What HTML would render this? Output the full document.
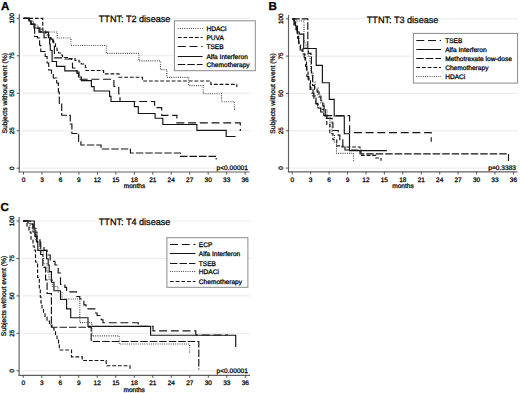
<!DOCTYPE html>
<html><head><meta charset="utf-8"><style>
html,body{margin:0;padding:0;background:#fff;}
body{width:520px;height:393px;overflow:hidden;font-family:"Liberation Sans",sans-serif;}
svg{display:block;text-rendering:geometricPrecision;}
</style></head><body>
<svg width="520" height="393" viewBox="0 0 520 393">
<rect width="520" height="393" fill="#fff"/>
<line x1="22.80" y1="168.20" x2="250.00" y2="168.20" stroke="#e9e9e9" stroke-width="1"/>
<line x1="22.80" y1="130.72" x2="250.00" y2="130.72" stroke="#e9e9e9" stroke-width="1"/>
<line x1="22.80" y1="93.25" x2="250.00" y2="93.25" stroke="#e9e9e9" stroke-width="1"/>
<line x1="22.80" y1="55.78" x2="250.00" y2="55.78" stroke="#e9e9e9" stroke-width="1"/>
<line x1="22.80" y1="18.30" x2="250.00" y2="18.30" stroke="#e9e9e9" stroke-width="1"/>
<rect x="96.5" y="13.0" width="76.0" height="11.0" fill="#fff"/>
<text x="134.60" y="22.30" font-size="9.1" text-anchor="middle" fill="#111" font-family="&apos;Liberation Sans&apos;, sans-serif" stroke="#000" stroke-width="0.28">TTNT: T2 disease</text>
<rect x="216.0" y="164.5" width="33.0" height="6.5" fill="#fff"/>
<text x="247.90" y="170.10" font-size="6.6" text-anchor="end" fill="#111" font-family="&apos;Liberation Sans&apos;, sans-serif" stroke="#000" stroke-width="0.28">p&lt;0.00001</text>
<path d="M23.50 18.30 H30.00 V21.00 H33.50 V25.00 H38.00 V29.00 H41.50 V32.00 H57.30 V38.00 H71.00 V45.50 H106.30 V53.40 H138.90 V60.90 H160.50 V69.60 H166.80 V77.30 H188.70 V85.60 H203.20 V93.70 H221.50 V101.70 H234.40 V110.00" fill="none" stroke="#3a3a3a" stroke-width="1.15" stroke-dasharray="0.9 1.3"/>
<path d="M23.50 18.30 H42.75 V30.25 H45.50 V33.00 H47.00 V35.00 H49.00 V37.50 H51.00 V40.00 H53.50 V42.75 H55.50 V48.00 H57.00 V50.50 H58.50 V53.00 H60.50 V55.00 H62.50 V57.50 H68.00 V58.60 H75.00 V60.30 H79.00 V62.00 H81.30 V64.00 H85.40 V67.50 H86.10 V70.50 H103.60 V73.80 H119.00 V77.20 H142.50 V81.00 H210.90 V84.40 H236.80 V87.00" fill="none" stroke="#141414" stroke-width="1.15" stroke-dasharray="3.8 1.9"/>
<path d="M23.50 18.30 H29.00 V21.00 H31.00 V24.00 H35.00 V28.00 H40.00 V32.00 H44.00 V37.75 H50.00 V39.00 H52.75 V42.00 H54.00 V46.00 H54.40 V57.90 H64.80 V59.00 H71.70 V63.00 H72.50 V68.00 H77.00 V72.00 H79.00 V79.20 H113.90 V86.50 H118.75 V94.00 H120.00 V101.50 H154.60 V107.60 H161.70 V115.30 H176.90 V122.80 H240.30 V131.00" fill="none" stroke="#141414" stroke-width="1.15" stroke-dasharray="8 3.7"/>
<path d="M23.50 18.30 H29.00 V21.00 H31.00 V24.00 H34.00 V28.00 H39.00 V32.10 H48.50 V37.75 H49.60 V44.00 H50.25 V50.25 H52.10 V61.50 H56.50 V66.30 H64.80 V70.90 H77.00 V73.50 H78.50 V77.00 H81.30 V80.60 H91.40 V86.60 H94.10 V91.00 H109.60 V96.30 H111.00 V101.50 H134.40 V106.60 H138.30 V113.50 H155.10 V118.20 H162.80 V124.50 H196.90 V130.40 H226.20 V136.50 H235.60" fill="none" stroke="#141414" stroke-width="1.15"/>
<path d="M23.50 18.30 H29.00 V21.00 H31.00 V24.50 H34.60 V36.50 H37.50 V38.00 H39.60 V45.25 H40.80 V51.50 H45.20 V56.50 H47.10 V63.00 H48.70 V70.00 H51.50 V74.60 H53.30 V78.00 H56.70 V83.00 H58.40 V92.00 H59.30 V103.50 H61.70 V115.20 H70.30 V124.00 H71.90 V133.50 H78.60 V141.50 H80.90 V145.00 H101.10 V149.00 H130.40 V153.00 H180.50 V156.30 H216.20 V159.50" fill="none" stroke="#141414" stroke-width="1.15" stroke-dasharray="7.5 2"/>
<line x1="19.30" y1="14.00" x2="19.30" y2="172.60" stroke="#606060" stroke-width="1.15"/>
<line x1="18.70" y1="172.00" x2="249.50" y2="172.00" stroke="#606060" stroke-width="1.15"/>
<line x1="16.70" y1="168.20" x2="19.30" y2="168.20" stroke="#444" stroke-width="0.9"/>
<text transform="translate(13.80 168.20) rotate(-90)" font-size="6.3" text-anchor="middle" fill="#111" font-family="&apos;Liberation Sans&apos;, sans-serif" stroke="#000" stroke-width="0.28">0</text>
<line x1="16.70" y1="130.72" x2="19.30" y2="130.72" stroke="#444" stroke-width="0.9"/>
<text transform="translate(13.80 130.72) rotate(-90)" font-size="6.3" text-anchor="middle" fill="#111" font-family="&apos;Liberation Sans&apos;, sans-serif" stroke="#000" stroke-width="0.28">25</text>
<line x1="16.70" y1="93.25" x2="19.30" y2="93.25" stroke="#444" stroke-width="0.9"/>
<text transform="translate(13.80 93.25) rotate(-90)" font-size="6.3" text-anchor="middle" fill="#111" font-family="&apos;Liberation Sans&apos;, sans-serif" stroke="#000" stroke-width="0.28">50</text>
<line x1="16.70" y1="55.78" x2="19.30" y2="55.78" stroke="#444" stroke-width="0.9"/>
<text transform="translate(13.80 55.78) rotate(-90)" font-size="6.3" text-anchor="middle" fill="#111" font-family="&apos;Liberation Sans&apos;, sans-serif" stroke="#000" stroke-width="0.28">75</text>
<line x1="16.70" y1="18.30" x2="19.30" y2="18.30" stroke="#444" stroke-width="0.9"/>
<text transform="translate(13.80 18.30) rotate(-90)" font-size="6.3" text-anchor="middle" fill="#111" font-family="&apos;Liberation Sans&apos;, sans-serif" stroke="#000" stroke-width="0.28">100</text>
<line x1="23.50" y1="172.00" x2="23.50" y2="174.60" stroke="#444" stroke-width="0.9"/>
<text x="23.50" y="181.60" font-size="6.5" text-anchor="middle" fill="#111" font-family="&apos;Liberation Sans&apos;, sans-serif" stroke="#000" stroke-width="0.28">0</text>
<line x1="41.97" y1="172.00" x2="41.97" y2="174.60" stroke="#444" stroke-width="0.9"/>
<text x="41.97" y="181.60" font-size="6.5" text-anchor="middle" fill="#111" font-family="&apos;Liberation Sans&apos;, sans-serif" stroke="#000" stroke-width="0.28">3</text>
<line x1="60.44" y1="172.00" x2="60.44" y2="174.60" stroke="#444" stroke-width="0.9"/>
<text x="60.44" y="181.60" font-size="6.5" text-anchor="middle" fill="#111" font-family="&apos;Liberation Sans&apos;, sans-serif" stroke="#000" stroke-width="0.28">6</text>
<line x1="78.90" y1="172.00" x2="78.90" y2="174.60" stroke="#444" stroke-width="0.9"/>
<text x="78.90" y="181.60" font-size="6.5" text-anchor="middle" fill="#111" font-family="&apos;Liberation Sans&apos;, sans-serif" stroke="#000" stroke-width="0.28">9</text>
<line x1="97.37" y1="172.00" x2="97.37" y2="174.60" stroke="#444" stroke-width="0.9"/>
<text x="97.37" y="181.60" font-size="6.5" text-anchor="middle" fill="#111" font-family="&apos;Liberation Sans&apos;, sans-serif" stroke="#000" stroke-width="0.28">12</text>
<line x1="115.84" y1="172.00" x2="115.84" y2="174.60" stroke="#444" stroke-width="0.9"/>
<text x="115.84" y="181.60" font-size="6.5" text-anchor="middle" fill="#111" font-family="&apos;Liberation Sans&apos;, sans-serif" stroke="#000" stroke-width="0.28">15</text>
<line x1="134.31" y1="172.00" x2="134.31" y2="174.60" stroke="#444" stroke-width="0.9"/>
<text x="134.31" y="181.60" font-size="6.5" text-anchor="middle" fill="#111" font-family="&apos;Liberation Sans&apos;, sans-serif" stroke="#000" stroke-width="0.28">18</text>
<line x1="152.78" y1="172.00" x2="152.78" y2="174.60" stroke="#444" stroke-width="0.9"/>
<text x="152.78" y="181.60" font-size="6.5" text-anchor="middle" fill="#111" font-family="&apos;Liberation Sans&apos;, sans-serif" stroke="#000" stroke-width="0.28">21</text>
<line x1="171.24" y1="172.00" x2="171.24" y2="174.60" stroke="#444" stroke-width="0.9"/>
<text x="171.24" y="181.60" font-size="6.5" text-anchor="middle" fill="#111" font-family="&apos;Liberation Sans&apos;, sans-serif" stroke="#000" stroke-width="0.28">24</text>
<line x1="189.71" y1="172.00" x2="189.71" y2="174.60" stroke="#444" stroke-width="0.9"/>
<text x="189.71" y="181.60" font-size="6.5" text-anchor="middle" fill="#111" font-family="&apos;Liberation Sans&apos;, sans-serif" stroke="#000" stroke-width="0.28">27</text>
<line x1="208.18" y1="172.00" x2="208.18" y2="174.60" stroke="#444" stroke-width="0.9"/>
<text x="208.18" y="181.60" font-size="6.5" text-anchor="middle" fill="#111" font-family="&apos;Liberation Sans&apos;, sans-serif" stroke="#000" stroke-width="0.28">30</text>
<line x1="226.65" y1="172.00" x2="226.65" y2="174.60" stroke="#444" stroke-width="0.9"/>
<text x="226.65" y="181.60" font-size="6.5" text-anchor="middle" fill="#111" font-family="&apos;Liberation Sans&apos;, sans-serif" stroke="#000" stroke-width="0.28">33</text>
<line x1="245.12" y1="172.00" x2="245.12" y2="174.60" stroke="#444" stroke-width="0.9"/>
<text x="245.12" y="181.60" font-size="6.5" text-anchor="middle" fill="#111" font-family="&apos;Liberation Sans&apos;, sans-serif" stroke="#000" stroke-width="0.28">36</text>
<text transform="translate(6.60 93.25) rotate(-90)" font-size="6.8" text-anchor="middle" fill="#111" font-family="&apos;Liberation Sans&apos;, sans-serif" stroke="#000" stroke-width="0.28">Subjects without event (%)</text>
<text x="134.50" y="188.30" font-size="6.5" text-anchor="middle" fill="#111" font-family="&apos;Liberation Sans&apos;, sans-serif" stroke="#000" stroke-width="0.28">months</text>
<rect x="174.40" y="20.80" width="80.90" height="49.90" fill="#fff" stroke="#8a8a8a" stroke-width="1"/>
<line x1="177.80" y1="28.50" x2="202.60" y2="28.50" stroke="#3a3a3a" stroke-width="1" stroke-dasharray="0.9 1.3"/>
<text x="206.40" y="30.80" font-size="6.6" fill="#111" font-family="&apos;Liberation Sans&apos;, sans-serif" stroke="#000" stroke-width="0.28">HDACi</text>
<line x1="177.80" y1="37.50" x2="202.60" y2="37.50" stroke="#141414" stroke-width="1" stroke-dasharray="3.8 1.9"/>
<text x="206.40" y="39.90" font-size="6.6" fill="#111" font-family="&apos;Liberation Sans&apos;, sans-serif" stroke="#000" stroke-width="0.28">PUVA</text>
<line x1="177.80" y1="46.50" x2="202.60" y2="46.50" stroke="#141414" stroke-width="1" stroke-dasharray="8 3.7"/>
<text x="206.40" y="49.20" font-size="6.6" fill="#111" font-family="&apos;Liberation Sans&apos;, sans-serif" stroke="#000" stroke-width="0.28">TSEB</text>
<line x1="177.80" y1="56.50" x2="202.60" y2="56.50" stroke="#141414" stroke-width="1"/>
<text x="206.40" y="58.50" font-size="6.6" fill="#111" font-family="&apos;Liberation Sans&apos;, sans-serif" stroke="#000" stroke-width="0.28">Alfa Interferon</text>
<line x1="177.80" y1="64.50" x2="202.60" y2="64.50" stroke="#141414" stroke-width="1" stroke-dasharray="7.5 2"/>
<text x="206.40" y="67.00" font-size="6.6" fill="#111" font-family="&apos;Liberation Sans&apos;, sans-serif" stroke="#000" stroke-width="0.28">Chemotherapy</text>
<text x="0.90" y="9.50" font-size="11.6" font-weight="bold" fill="#000" font-family="&apos;Liberation Sans&apos;, sans-serif" stroke="#000" stroke-width="0.28">A</text>
<line x1="289.60" y1="168.10" x2="518.00" y2="168.10" stroke="#e9e9e9" stroke-width="1"/>
<line x1="289.60" y1="130.78" x2="518.00" y2="130.78" stroke="#e9e9e9" stroke-width="1"/>
<line x1="289.60" y1="93.45" x2="518.00" y2="93.45" stroke="#e9e9e9" stroke-width="1"/>
<line x1="289.60" y1="56.12" x2="518.00" y2="56.12" stroke="#e9e9e9" stroke-width="1"/>
<line x1="289.60" y1="18.80" x2="518.00" y2="18.80" stroke="#e9e9e9" stroke-width="1"/>
<rect x="365.0" y="14.0" width="75.0" height="11.0" fill="#fff"/>
<text x="402.60" y="23.00" font-size="9.1" text-anchor="middle" fill="#111" font-family="&apos;Liberation Sans&apos;, sans-serif" stroke="#000" stroke-width="0.28">TTNT: T3 disease</text>
<rect x="488.0" y="164.5" width="29.0" height="6.5" fill="#fff"/>
<text x="516.00" y="170.10" font-size="6.6" text-anchor="end" fill="#111" font-family="&apos;Liberation Sans&apos;, sans-serif" stroke="#000" stroke-width="0.28">p=0.3383</text>
<path d="M292.20 18.80 H294.50 V24.00 H296.50 V30.00 H297.10 V34.00 H298.60 V44.00 H300.20 V50.00 H302.20 V52.50 H304.20 V57.50 H305.60 V66.40 H306.90 V76.50 H308.80 V82.90 H310.10 V89.30 H312.00 V93.10 H313.90 V98.20 H315.80 V103.30 H317.70 V108.30 H320.70 V112.00 H323.70 V115.60 H349.60 V132.60 H431.20 V141.80" fill="none" stroke="#141414" stroke-width="1.15" stroke-dasharray="8 3.7"/>
<path d="M292.20 18.80 H294.00 V22.00 H295.60 V26.00 H297.40 V32.00 H299.20 V34.10 H303.70 V48.50 H316.20 V65.30 H322.40 V82.70 H329.30 V99.30 H334.20 V116.00 H344.30 V133.70 H349.50 V150.60 H387.00" fill="none" stroke="#141414" stroke-width="1.15"/>
<path d="M292.20 18.80 H307.80 V48.30 H308.30 V53.40 H311.00 V55.50 H311.40 V75.30 H312.60 V85.40 H314.50 V89.30 H317.10 V91.80 H319.00 V96.90 H320.90 V100.70 H322.80 V105.80 H324.10 V108.30 H325.30 V118.30 H332.10 V122.90 H332.90 V130.50 H338.20 V135.10 H339.80 V139.70 H342.80 V145.80 H345.00 V150.00 H361.00 V153.80 H508.50 V161.00" fill="none" stroke="#141414" stroke-width="1.15" stroke-dasharray="7.5 2"/>
<path d="M292.20 18.80 H294.00 V25.00 H296.00 V31.00 H297.60 V38.20 H299.00 V45.00 H300.50 V49.00 H303.00 V54.00 H305.00 V60.00 H306.50 V70.00 H308.00 V79.00 H310.50 V88.00 H313.00 V96.00 H316.00 V104.00 H318.00 V108.00 H320.70 V109.20 H323.70 V115.30 H326.80 V124.40 H329.80 V133.60 H332.90 V139.70 H336.70 V145.80 H342.00 V147.00 H360.00 V155.30 H375.80 V158.00 H381.00 V160.70" fill="none" stroke="#141414" stroke-width="1.15" stroke-dasharray="3.8 1.9"/>
<path d="M292.20 18.80 H296.00 V21.00 H304.00 V42.00 H306.00 V48.00 H308.00 V56.00 H310.00 V62.00 H311.00 V72.00 H313.00 V82.00 H315.00 V88.00 H318.00 V95.00 H321.00 V103.00 H324.00 V110.00 H327.00 V118.00 H330.00 V126.00 H332.00 V135.00 H334.40 V142.00 H336.50 V153.30 H353.50 V161.00" fill="none" stroke="#3a3a3a" stroke-width="1.15" stroke-dasharray="0.9 1.3"/>
<line x1="288.50" y1="15.00" x2="288.50" y2="172.40" stroke="#606060" stroke-width="1.15"/>
<line x1="287.90" y1="171.80" x2="517.50" y2="171.80" stroke="#606060" stroke-width="1.15"/>
<line x1="285.90" y1="168.10" x2="288.50" y2="168.10" stroke="#444" stroke-width="0.9"/>
<text transform="translate(283.00 168.10) rotate(-90)" font-size="6.3" text-anchor="middle" fill="#111" font-family="&apos;Liberation Sans&apos;, sans-serif" stroke="#000" stroke-width="0.28">0</text>
<line x1="285.90" y1="130.78" x2="288.50" y2="130.78" stroke="#444" stroke-width="0.9"/>
<text transform="translate(283.00 130.78) rotate(-90)" font-size="6.3" text-anchor="middle" fill="#111" font-family="&apos;Liberation Sans&apos;, sans-serif" stroke="#000" stroke-width="0.28">25</text>
<line x1="285.90" y1="93.45" x2="288.50" y2="93.45" stroke="#444" stroke-width="0.9"/>
<text transform="translate(283.00 93.45) rotate(-90)" font-size="6.3" text-anchor="middle" fill="#111" font-family="&apos;Liberation Sans&apos;, sans-serif" stroke="#000" stroke-width="0.28">50</text>
<line x1="285.90" y1="56.12" x2="288.50" y2="56.12" stroke="#444" stroke-width="0.9"/>
<text transform="translate(283.00 56.12) rotate(-90)" font-size="6.3" text-anchor="middle" fill="#111" font-family="&apos;Liberation Sans&apos;, sans-serif" stroke="#000" stroke-width="0.28">75</text>
<line x1="285.90" y1="18.80" x2="288.50" y2="18.80" stroke="#444" stroke-width="0.9"/>
<text transform="translate(283.00 18.80) rotate(-90)" font-size="6.3" text-anchor="middle" fill="#111" font-family="&apos;Liberation Sans&apos;, sans-serif" stroke="#000" stroke-width="0.28">100</text>
<line x1="292.20" y1="171.80" x2="292.20" y2="174.40" stroke="#444" stroke-width="0.9"/>
<text x="292.20" y="181.50" font-size="6.5" text-anchor="middle" fill="#111" font-family="&apos;Liberation Sans&apos;, sans-serif" stroke="#000" stroke-width="0.28">0</text>
<line x1="310.63" y1="171.80" x2="310.63" y2="174.40" stroke="#444" stroke-width="0.9"/>
<text x="310.63" y="181.50" font-size="6.5" text-anchor="middle" fill="#111" font-family="&apos;Liberation Sans&apos;, sans-serif" stroke="#000" stroke-width="0.28">3</text>
<line x1="329.07" y1="171.80" x2="329.07" y2="174.40" stroke="#444" stroke-width="0.9"/>
<text x="329.07" y="181.50" font-size="6.5" text-anchor="middle" fill="#111" font-family="&apos;Liberation Sans&apos;, sans-serif" stroke="#000" stroke-width="0.28">6</text>
<line x1="347.50" y1="171.80" x2="347.50" y2="174.40" stroke="#444" stroke-width="0.9"/>
<text x="347.50" y="181.50" font-size="6.5" text-anchor="middle" fill="#111" font-family="&apos;Liberation Sans&apos;, sans-serif" stroke="#000" stroke-width="0.28">9</text>
<line x1="365.94" y1="171.80" x2="365.94" y2="174.40" stroke="#444" stroke-width="0.9"/>
<text x="365.94" y="181.50" font-size="6.5" text-anchor="middle" fill="#111" font-family="&apos;Liberation Sans&apos;, sans-serif" stroke="#000" stroke-width="0.28">12</text>
<line x1="384.38" y1="171.80" x2="384.38" y2="174.40" stroke="#444" stroke-width="0.9"/>
<text x="384.38" y="181.50" font-size="6.5" text-anchor="middle" fill="#111" font-family="&apos;Liberation Sans&apos;, sans-serif" stroke="#000" stroke-width="0.28">15</text>
<line x1="402.81" y1="171.80" x2="402.81" y2="174.40" stroke="#444" stroke-width="0.9"/>
<text x="402.81" y="181.50" font-size="6.5" text-anchor="middle" fill="#111" font-family="&apos;Liberation Sans&apos;, sans-serif" stroke="#000" stroke-width="0.28">18</text>
<line x1="421.25" y1="171.80" x2="421.25" y2="174.40" stroke="#444" stroke-width="0.9"/>
<text x="421.25" y="181.50" font-size="6.5" text-anchor="middle" fill="#111" font-family="&apos;Liberation Sans&apos;, sans-serif" stroke="#000" stroke-width="0.28">21</text>
<line x1="439.68" y1="171.80" x2="439.68" y2="174.40" stroke="#444" stroke-width="0.9"/>
<text x="439.68" y="181.50" font-size="6.5" text-anchor="middle" fill="#111" font-family="&apos;Liberation Sans&apos;, sans-serif" stroke="#000" stroke-width="0.28">24</text>
<line x1="458.12" y1="171.80" x2="458.12" y2="174.40" stroke="#444" stroke-width="0.9"/>
<text x="458.12" y="181.50" font-size="6.5" text-anchor="middle" fill="#111" font-family="&apos;Liberation Sans&apos;, sans-serif" stroke="#000" stroke-width="0.28">27</text>
<line x1="476.55" y1="171.80" x2="476.55" y2="174.40" stroke="#444" stroke-width="0.9"/>
<text x="476.55" y="181.50" font-size="6.5" text-anchor="middle" fill="#111" font-family="&apos;Liberation Sans&apos;, sans-serif" stroke="#000" stroke-width="0.28">30</text>
<line x1="494.99" y1="171.80" x2="494.99" y2="174.40" stroke="#444" stroke-width="0.9"/>
<text x="494.99" y="181.50" font-size="6.5" text-anchor="middle" fill="#111" font-family="&apos;Liberation Sans&apos;, sans-serif" stroke="#000" stroke-width="0.28">33</text>
<line x1="513.42" y1="171.80" x2="513.42" y2="174.40" stroke="#444" stroke-width="0.9"/>
<text x="513.42" y="181.50" font-size="6.5" text-anchor="middle" fill="#111" font-family="&apos;Liberation Sans&apos;, sans-serif" stroke="#000" stroke-width="0.28">36</text>
<text transform="translate(274.90 93.45) rotate(-90)" font-size="6.8" text-anchor="middle" fill="#111" font-family="&apos;Liberation Sans&apos;, sans-serif" stroke="#000" stroke-width="0.28">Subjects without event (%)</text>
<text x="403.00" y="188.20" font-size="6.5" text-anchor="middle" fill="#111" font-family="&apos;Liberation Sans&apos;, sans-serif" stroke="#000" stroke-width="0.28">months</text>
<rect x="413.40" y="33.40" width="104.20" height="49.70" fill="#fff" stroke="#8a8a8a" stroke-width="1"/>
<line x1="416.30" y1="40.50" x2="441.00" y2="40.50" stroke="#141414" stroke-width="1" stroke-dasharray="8 3.7"/>
<text x="445.20" y="43.30" font-size="6.6" fill="#111" font-family="&apos;Liberation Sans&apos;, sans-serif" stroke="#000" stroke-width="0.28">TSEB</text>
<line x1="416.30" y1="49.50" x2="441.00" y2="49.50" stroke="#141414" stroke-width="1"/>
<text x="445.20" y="51.80" font-size="6.6" fill="#111" font-family="&apos;Liberation Sans&apos;, sans-serif" stroke="#000" stroke-width="0.28">Alfa Interferon</text>
<line x1="416.30" y1="58.50" x2="441.00" y2="58.50" stroke="#141414" stroke-width="1" stroke-dasharray="7.5 2"/>
<text x="445.20" y="60.60" font-size="6.6" fill="#111" font-family="&apos;Liberation Sans&apos;, sans-serif" stroke="#000" stroke-width="0.28">Methotrexate low-dose</text>
<line x1="416.30" y1="67.50" x2="441.00" y2="67.50" stroke="#141414" stroke-width="1" stroke-dasharray="3.8 1.9"/>
<text x="445.20" y="69.80" font-size="6.6" fill="#111" font-family="&apos;Liberation Sans&apos;, sans-serif" stroke="#000" stroke-width="0.28">Chemotherapy</text>
<line x1="416.30" y1="76.50" x2="441.00" y2="76.50" stroke="#3a3a3a" stroke-width="1" stroke-dasharray="0.9 1.3"/>
<text x="445.20" y="78.80" font-size="6.6" fill="#111" font-family="&apos;Liberation Sans&apos;, sans-serif" stroke="#000" stroke-width="0.28">HDACi</text>
<text x="268.60" y="9.80" font-size="11.6" font-weight="bold" fill="#000" font-family="&apos;Liberation Sans&apos;, sans-serif" stroke="#000" stroke-width="0.28">B</text>
<line x1="22.60" y1="370.80" x2="250.00" y2="370.80" stroke="#e9e9e9" stroke-width="1"/>
<line x1="22.60" y1="333.35" x2="250.00" y2="333.35" stroke="#e9e9e9" stroke-width="1"/>
<line x1="22.60" y1="295.90" x2="250.00" y2="295.90" stroke="#e9e9e9" stroke-width="1"/>
<line x1="22.60" y1="258.45" x2="250.00" y2="258.45" stroke="#e9e9e9" stroke-width="1"/>
<line x1="22.60" y1="221.00" x2="250.00" y2="221.00" stroke="#e9e9e9" stroke-width="1"/>
<rect x="96.5" y="216.0" width="76.0" height="11.0" fill="#fff"/>
<text x="134.60" y="225.30" font-size="9.1" text-anchor="middle" fill="#111" font-family="&apos;Liberation Sans&apos;, sans-serif" stroke="#000" stroke-width="0.28">TTNT: T4 disease</text>
<rect x="216.0" y="367.5" width="33.0" height="6.5" fill="#fff"/>
<text x="247.90" y="373.10" font-size="6.6" text-anchor="end" fill="#111" font-family="&apos;Liberation Sans&apos;, sans-serif" stroke="#000" stroke-width="0.28">p&lt;0.00001</text>
<path d="M23.20 221.00 H30.00 V224.00 H33.00 V229.00 H35.00 V235.00 H37.00 V240.00 H40.00 V246.00 H44.00 V250.20 H47.00 V255.00 H50.20 V261.40 H55.00 V265.00 H58.20 V273.00 H60.50 V284.30 H64.90 V287.40 H66.60 V291.90 H76.50 V296.50 H79.80 V299.00 H83.90 V304.80 H86.00 V308.90 H95.50 V313.00 H97.10 V315.50 H101.30 V319.70 H103.00 V322.70 H138.30 V326.40 H153.00 V330.80 H195.80 V335.00 H228.00" fill="none" stroke="#141414" stroke-width="1.15" stroke-dasharray="8 3.7"/>
<path d="M23.20 221.00 H34.30 V228.00 H35.00 V236.30 H36.40 V241.60 H37.80 V250.40 H46.60 V258.70 H48.20 V265.00 H49.20 V271.60 H51.40 V282.20 H54.00 V290.70 H60.50 V299.50 H66.60 V308.90 H70.70 V317.70 H88.00 V326.40 H150.60 V335.20 H235.70 V347.00" fill="none" stroke="#141414" stroke-width="1.15"/>
<path d="M23.20 221.00 H28.00 V224.00 H33.00 V232.00 H37.00 V242.00 H40.70 V254.50 H42.80 V267.30 H45.60 V280.00 H47.10 V293.50 H51.40 V327.20 H91.20 V341.50 H198.80 V369.50" fill="none" stroke="#141414" stroke-width="1.15" stroke-dasharray="7.5 2"/>
<path d="M23.20 221.00 H30.00 V228.00 H36.00 V240.00 H40.00 V252.00 H43.30 V263.70 H47.00 V272.00 H49.00 V280.00 H52.40 V286.50 H57.80 V292.00 H62.00 V299.00 H79.80 V322.60 H92.00 V335.90 H119.20 V344.00 H189.60 V353.50" fill="none" stroke="#3a3a3a" stroke-width="1.15" stroke-dasharray="0.9 1.3"/>
<path d="M23.20 221.00 H27.00 V226.00 H29.00 V232.00 H31.00 V240.00 H33.00 V246.00 H34.20 V250.00 H35.50 V262.00 H37.60 V277.50 H39.30 V290.00 H40.30 V297.00 H41.00 V303.00 H42.00 V309.00 H43.50 V313.00 H45.00 V317.00 H47.00 V321.00 H49.50 V325.00 H52.00 V328.00 H54.00 V331.00 H55.50 V335.00 H57.00 V340.00 H58.50 V345.00 H59.30 V350.00 H71.50 V356.90 H82.30 V360.50 H106.20 V365.70 H130.00 V370.30" fill="none" stroke="#141414" stroke-width="1.15" stroke-dasharray="3.8 1.9"/>
<line x1="19.10" y1="217.00" x2="19.10" y2="375.90" stroke="#606060" stroke-width="1.15"/>
<line x1="18.50" y1="375.30" x2="250.00" y2="375.30" stroke="#606060" stroke-width="1.15"/>
<line x1="16.50" y1="370.80" x2="19.10" y2="370.80" stroke="#444" stroke-width="0.9"/>
<text transform="translate(13.60 370.80) rotate(-90)" font-size="6.3" text-anchor="middle" fill="#111" font-family="&apos;Liberation Sans&apos;, sans-serif" stroke="#000" stroke-width="0.28">0</text>
<line x1="16.50" y1="333.35" x2="19.10" y2="333.35" stroke="#444" stroke-width="0.9"/>
<text transform="translate(13.60 333.35) rotate(-90)" font-size="6.3" text-anchor="middle" fill="#111" font-family="&apos;Liberation Sans&apos;, sans-serif" stroke="#000" stroke-width="0.28">25</text>
<line x1="16.50" y1="295.90" x2="19.10" y2="295.90" stroke="#444" stroke-width="0.9"/>
<text transform="translate(13.60 295.90) rotate(-90)" font-size="6.3" text-anchor="middle" fill="#111" font-family="&apos;Liberation Sans&apos;, sans-serif" stroke="#000" stroke-width="0.28">50</text>
<line x1="16.50" y1="258.45" x2="19.10" y2="258.45" stroke="#444" stroke-width="0.9"/>
<text transform="translate(13.60 258.45) rotate(-90)" font-size="6.3" text-anchor="middle" fill="#111" font-family="&apos;Liberation Sans&apos;, sans-serif" stroke="#000" stroke-width="0.28">75</text>
<line x1="16.50" y1="221.00" x2="19.10" y2="221.00" stroke="#444" stroke-width="0.9"/>
<text transform="translate(13.60 221.00) rotate(-90)" font-size="6.3" text-anchor="middle" fill="#111" font-family="&apos;Liberation Sans&apos;, sans-serif" stroke="#000" stroke-width="0.28">100</text>
<line x1="23.20" y1="375.30" x2="23.20" y2="377.90" stroke="#444" stroke-width="0.9"/>
<text x="23.20" y="384.60" font-size="6.5" text-anchor="middle" fill="#111" font-family="&apos;Liberation Sans&apos;, sans-serif" stroke="#000" stroke-width="0.28">0</text>
<line x1="41.71" y1="375.30" x2="41.71" y2="377.90" stroke="#444" stroke-width="0.9"/>
<text x="41.71" y="384.60" font-size="6.5" text-anchor="middle" fill="#111" font-family="&apos;Liberation Sans&apos;, sans-serif" stroke="#000" stroke-width="0.28">3</text>
<line x1="60.22" y1="375.30" x2="60.22" y2="377.90" stroke="#444" stroke-width="0.9"/>
<text x="60.22" y="384.60" font-size="6.5" text-anchor="middle" fill="#111" font-family="&apos;Liberation Sans&apos;, sans-serif" stroke="#000" stroke-width="0.28">6</text>
<line x1="78.73" y1="375.30" x2="78.73" y2="377.90" stroke="#444" stroke-width="0.9"/>
<text x="78.73" y="384.60" font-size="6.5" text-anchor="middle" fill="#111" font-family="&apos;Liberation Sans&apos;, sans-serif" stroke="#000" stroke-width="0.28">9</text>
<line x1="97.24" y1="375.30" x2="97.24" y2="377.90" stroke="#444" stroke-width="0.9"/>
<text x="97.24" y="384.60" font-size="6.5" text-anchor="middle" fill="#111" font-family="&apos;Liberation Sans&apos;, sans-serif" stroke="#000" stroke-width="0.28">12</text>
<line x1="115.75" y1="375.30" x2="115.75" y2="377.90" stroke="#444" stroke-width="0.9"/>
<text x="115.75" y="384.60" font-size="6.5" text-anchor="middle" fill="#111" font-family="&apos;Liberation Sans&apos;, sans-serif" stroke="#000" stroke-width="0.28">15</text>
<line x1="134.26" y1="375.30" x2="134.26" y2="377.90" stroke="#444" stroke-width="0.9"/>
<text x="134.26" y="384.60" font-size="6.5" text-anchor="middle" fill="#111" font-family="&apos;Liberation Sans&apos;, sans-serif" stroke="#000" stroke-width="0.28">18</text>
<line x1="152.77" y1="375.30" x2="152.77" y2="377.90" stroke="#444" stroke-width="0.9"/>
<text x="152.77" y="384.60" font-size="6.5" text-anchor="middle" fill="#111" font-family="&apos;Liberation Sans&apos;, sans-serif" stroke="#000" stroke-width="0.28">21</text>
<line x1="171.28" y1="375.30" x2="171.28" y2="377.90" stroke="#444" stroke-width="0.9"/>
<text x="171.28" y="384.60" font-size="6.5" text-anchor="middle" fill="#111" font-family="&apos;Liberation Sans&apos;, sans-serif" stroke="#000" stroke-width="0.28">24</text>
<line x1="189.79" y1="375.30" x2="189.79" y2="377.90" stroke="#444" stroke-width="0.9"/>
<text x="189.79" y="384.60" font-size="6.5" text-anchor="middle" fill="#111" font-family="&apos;Liberation Sans&apos;, sans-serif" stroke="#000" stroke-width="0.28">27</text>
<line x1="208.30" y1="375.30" x2="208.30" y2="377.90" stroke="#444" stroke-width="0.9"/>
<text x="208.30" y="384.60" font-size="6.5" text-anchor="middle" fill="#111" font-family="&apos;Liberation Sans&apos;, sans-serif" stroke="#000" stroke-width="0.28">30</text>
<line x1="226.81" y1="375.30" x2="226.81" y2="377.90" stroke="#444" stroke-width="0.9"/>
<text x="226.81" y="384.60" font-size="6.5" text-anchor="middle" fill="#111" font-family="&apos;Liberation Sans&apos;, sans-serif" stroke="#000" stroke-width="0.28">33</text>
<line x1="245.32" y1="375.30" x2="245.32" y2="377.90" stroke="#444" stroke-width="0.9"/>
<text x="245.32" y="384.60" font-size="6.5" text-anchor="middle" fill="#111" font-family="&apos;Liberation Sans&apos;, sans-serif" stroke="#000" stroke-width="0.28">36</text>
<text transform="translate(6.40 295.90) rotate(-90)" font-size="6.8" text-anchor="middle" fill="#111" font-family="&apos;Liberation Sans&apos;, sans-serif" stroke="#000" stroke-width="0.28">Subjects without event (%)</text>
<text x="134.20" y="391.50" font-size="6.5" text-anchor="middle" fill="#111" font-family="&apos;Liberation Sans&apos;, sans-serif" stroke="#000" stroke-width="0.28">months</text>
<rect x="166.90" y="237.70" width="81.00" height="49.60" fill="#fff" stroke="#8a8a8a" stroke-width="1"/>
<line x1="170.00" y1="244.50" x2="195.40" y2="244.50" stroke="#141414" stroke-width="1" stroke-dasharray="8 3.7"/>
<text x="198.80" y="246.80" font-size="6.6" fill="#111" font-family="&apos;Liberation Sans&apos;, sans-serif" stroke="#000" stroke-width="0.28">ECP</text>
<line x1="170.00" y1="253.50" x2="195.40" y2="253.50" stroke="#141414" stroke-width="1"/>
<text x="198.80" y="256.10" font-size="6.6" fill="#111" font-family="&apos;Liberation Sans&apos;, sans-serif" stroke="#000" stroke-width="0.28">Alfa Interferon</text>
<line x1="170.00" y1="263.50" x2="195.40" y2="263.50" stroke="#141414" stroke-width="1" stroke-dasharray="7.5 2"/>
<text x="198.80" y="265.50" font-size="6.6" fill="#111" font-family="&apos;Liberation Sans&apos;, sans-serif" stroke="#000" stroke-width="0.28">TSEB</text>
<line x1="170.00" y1="271.50" x2="195.40" y2="271.50" stroke="#3a3a3a" stroke-width="1" stroke-dasharray="0.9 1.3"/>
<text x="198.80" y="274.30" font-size="6.6" fill="#111" font-family="&apos;Liberation Sans&apos;, sans-serif" stroke="#000" stroke-width="0.28">HDACi</text>
<line x1="170.00" y1="281.50" x2="195.40" y2="281.50" stroke="#141414" stroke-width="1" stroke-dasharray="3.8 1.9"/>
<text x="198.80" y="283.60" font-size="6.6" fill="#111" font-family="&apos;Liberation Sans&apos;, sans-serif" stroke="#000" stroke-width="0.28">Chemotherapy</text>
<text x="0.60" y="211.30" font-size="11.6" font-weight="bold" fill="#000" font-family="&apos;Liberation Sans&apos;, sans-serif" stroke="#000" stroke-width="0.28">C</text>
</svg>
</body></html>
